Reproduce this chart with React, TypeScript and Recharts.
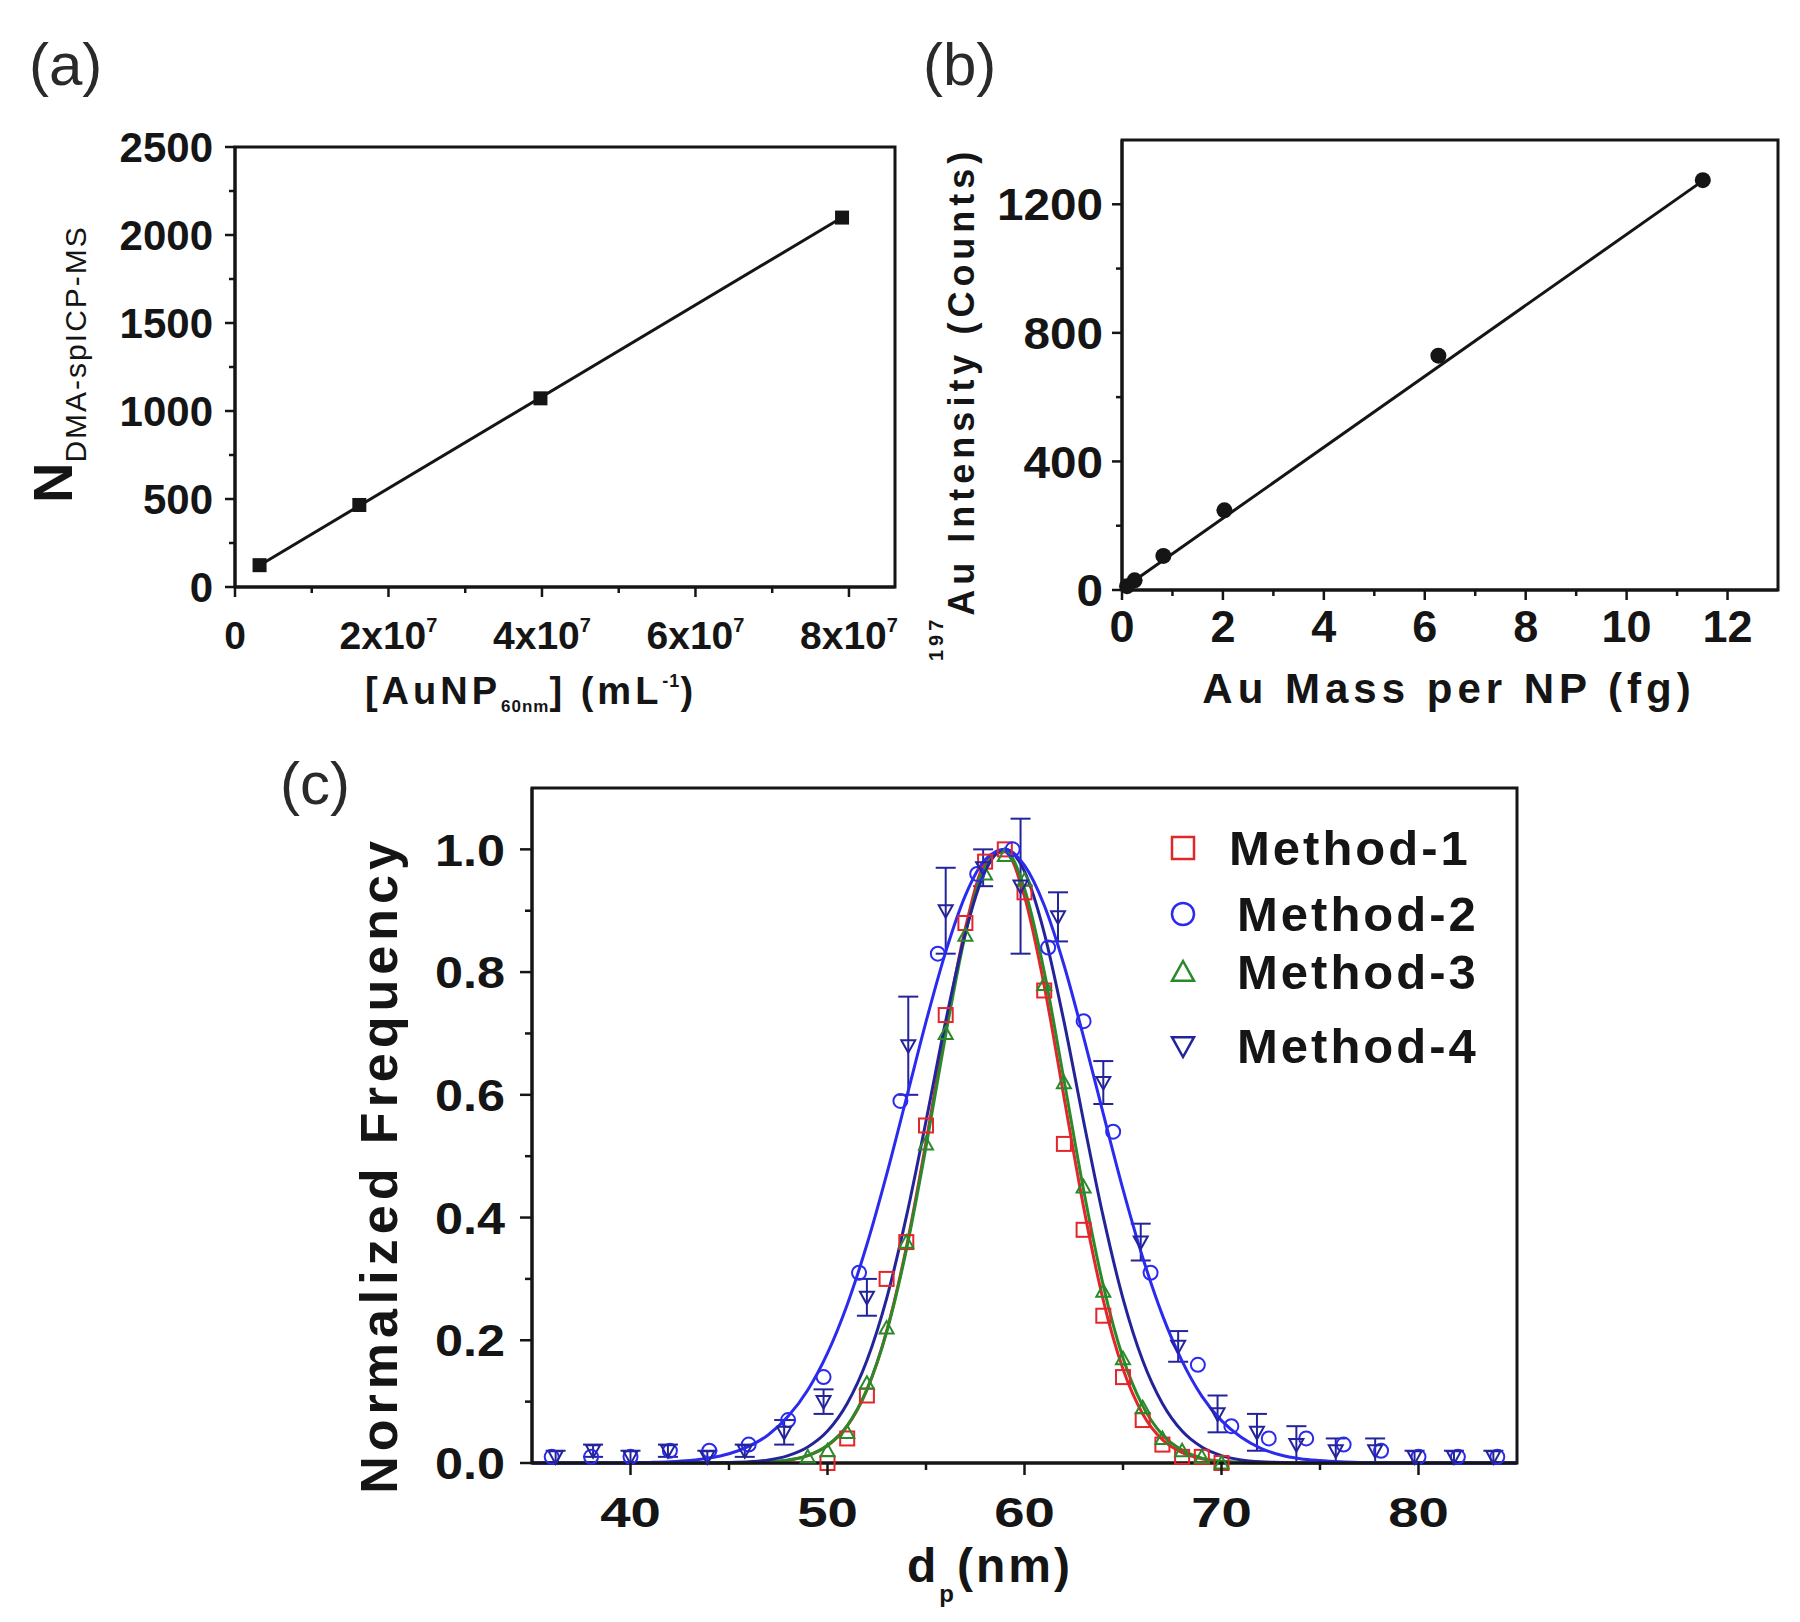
import React from 'react'
import { ComposedChart, ErrorBar, Line, ReferenceArea, Scatter, XAxis, YAxis } from 'recharts'

const FONT = '"Liberation Sans", Arial, Helvetica, sans-serif'
const INK = '#151515'

// ---- (a) DMA-spICP-MS particle count vs AuNP number concentration
const A_CONC = [0.32e7, 1.62e7, 3.98e7, 7.91e7]
const A_COUNT = [124, 466, 1072, 2099]
const A_FIT_CONC = [0.3e7, 7.92e7]
const A_FIT_COUNT = [118, 2102]
const A_XTICKS = [0, 1e7, 2e7, 3e7, 4e7, 5e7, 6e7, 7e7, 8e7]
const A_YTICKS = [0, 250, 500, 750, 1000, 1250, 1500, 1750, 2000, 2250, 2500]

// ---- (b) 197Au intensity vs Au mass per particle
const B_MASS = [0.1, 0.25, 0.82, 2.03, 6.27, 11.51]
const B_INTENSITY = [12, 30, 106, 248, 729, 1275]
const B_FIT_MASS = [0.05, 11.5]
const B_FIT_INTENSITY = [8, 1272]
const B_XTICKS = [0, 1, 2, 3, 4, 5, 6, 7, 8, 9, 10, 11, 12]
const B_YTICKS = [0, 200, 400, 600, 800, 1000, 1200]

// ---- (c) normalized size distributions
const C_XTICKS = [40, 45, 50, 55, 60, 65, 70, 75, 80]
const C_YTICKS = [0, 0.1, 0.2, 0.3, 0.4, 0.5, 0.6, 0.7, 0.8, 0.9, 1.0]

const DP_GRID = [
  35, 36, 37, 38, 39, 40, 41, 42, 43, 44, 45, 46, 47, 48, 49, 50, 51, 52, 53, 54, 55, 56, 57, 58, 59, 60,
  61, 62, 63, 64, 65, 66, 67, 68, 69, 70, 71, 72, 73, 74, 75, 76, 77, 78, 79, 80, 81, 82, 83, 84, 85,
]
const FIT_M1 = [
  0, 0, 0, 0, 0, 0, 0, 0, 0, 0, 0, 0.0005, 0.0015, 0.0044, 0.012, 0.028, 0.06, 0.119, 0.215, 0.351, 0.523,
  0.708, 0.872, 0.977, 0.996, 0.923, 0.778, 0.597, 0.417, 0.265, 0.153, 0.08, 0.038, 0.017, 0.007, 0.002,
  0.001, 0, 0, 0, 0, 0, 0, 0, 0, 0, 0, 0, 0, 0, 0,
]
const FIT_M2 = [
  0, 0, 0, 0, 0, 0.0004, 0.001, 0.002, 0.004, 0.008, 0.015, 0.027, 0.046, 0.076, 0.119, 0.179, 0.258, 0.356,
  0.47, 0.594, 0.719, 0.833, 0.925, 0.983, 1.0, 0.974, 0.909, 0.812, 0.694, 0.569, 0.446, 0.335, 0.241,
  0.166, 0.109, 0.069, 0.042, 0.024, 0.013, 0.007, 0.004, 0.002, 0.001, 0, 0, 0, 0, 0, 0, 0, 0,
]
const FIT_M3 = [
  0, 0, 0, 0, 0, 0, 0, 0, 0, 0, 0, 0, 0.002, 0.005, 0.012, 0.029, 0.061, 0.12, 0.213, 0.347, 0.515, 0.698,
  0.862, 0.971, 0.998, 0.936, 0.801, 0.625, 0.445, 0.289, 0.171, 0.093, 0.046, 0.021, 0.008, 0.003, 0.001,
  0, 0, 0, 0, 0, 0, 0, 0, 0, 0, 0, 0, 0, 0,
]
const FIT_M4 = [
  0, 0, 0, 0, 0, 0, 0, 0, 0, 0, 0.001, 0.002, 0.005, 0.012, 0.026, 0.052, 0.097, 0.167, 0.268, 0.401, 0.557,
  0.72, 0.864, 0.964, 1.0, 0.964, 0.864, 0.72, 0.557, 0.401, 0.268, 0.167, 0.097, 0.052, 0.026, 0.012, 0.005,
  0.002, 0.001, 0, 0, 0, 0, 0, 0, 0, 0, 0, 0, 0, 0,
]

const M1_DP = [50, 51, 52, 53, 54, 55, 56, 57, 58, 59, 60, 61, 62, 63, 64, 65, 66, 67, 68, 69, 70]
const M1_FREQ = [0.0, 0.04, 0.11, 0.3, 0.36, 0.55, 0.73, 0.88, 0.98, 1.0, 0.93, 0.77, 0.52, 0.38, 0.24, 0.14, 0.07, 0.03, 0.01, 0.01, 0.0]

const M2_DP = [36, 38, 40, 42, 44, 46, 48, 49.8, 51.6, 53.7, 55.6, 57.6, 59.4, 61.2, 63.0, 64.5, 66.4, 68.8, 70.5, 72.4, 74.3, 76.2, 78.1, 80, 82, 84]
const M2_FREQ = [0.01, 0.01, 0.01, 0.02, 0.02, 0.03, 0.07, 0.14, 0.31, 0.59, 0.83, 0.96, 1.0, 0.84, 0.72, 0.54, 0.31, 0.16, 0.06, 0.04, 0.04, 0.03, 0.02, 0.01, 0.01, 0.01]

const M3_DP = [49, 50, 51, 52, 53, 54, 55, 56, 57, 58, 59, 60, 61, 62, 63, 64, 65, 66, 67, 68, 69, 70]
const M3_FREQ = [0.01, 0.02, 0.05, 0.13, 0.22, 0.36, 0.52, 0.7, 0.86, 0.96, 0.99, 0.95, 0.78, 0.62, 0.45, 0.28, 0.17, 0.09, 0.04, 0.02, 0.01, 0.0]

const M4_DP = [36.2, 38.1, 40.0, 41.9, 43.9, 45.8, 47.8, 49.8, 52.0, 54.1, 56.0, 57.9, 59.8, 61.7, 64.0, 65.9, 67.8, 69.8, 71.8, 73.8, 75.8, 77.8, 79.8, 81.8, 83.8]
const M4_FREQ = [0.01, 0.02, 0.01, 0.02, 0.01, 0.02, 0.05, 0.1, 0.27, 0.68, 0.9, 0.97, 0.94, 0.89, 0.62, 0.36, 0.19, 0.08, 0.05, 0.03, 0.02, 0.02, 0.01, 0.01, 0.01]
const M4_ERR = [0.01, 0.01, 0.01, 0.01, 0.01, 0.01, 0.02, 0.02, 0.03, 0.08, 0.07, 0.03, 0.11, 0.04, 0.035, 0.03, 0.025, 0.03, 0.03, 0.03, 0.02, 0.02, 0.01, 0.01, 0.01]

const METHODS = ['Method-1', 'Method-2', 'Method-3', 'Method-4']
const COLORS = ['#e3262b', '#2b2bf0', '#2a8a2a', '#24249a']
const SHAPES = ['square', 'circle', 'triangle', 'down']

const pts = (xs: number[], ys: number[], err?: number[]) =>
  xs.map((x, i) => (err ? { x, y: ys[i], err: err[i] } : { x, y: ys[i] }))

const aPoints = pts(A_CONC, A_COUNT)
const aFit = pts(A_FIT_CONC, A_FIT_COUNT)
const bPoints = pts(B_MASS, B_INTENSITY)
const bFit = pts(B_FIT_MASS, B_FIT_INTENSITY)
const fits = [FIT_M1, FIT_M2, FIT_M3, FIT_M4].map((f) => pts(DP_GRID, f))
const m1 = pts(M1_DP, M1_FREQ)
const m2 = pts(M2_DP, M2_FREQ)
const m3 = pts(M3_DP, M3_FREQ)
const m4 = pts(M4_DP, M4_FREQ, M4_ERR)

function glyph(kind: string, cx: number, cy: number, s: number, color: string, w = 2) {
  const h = s / 2
  if (kind === 'square') return <rect x={cx - h} y={cy - h} width={s} height={s} fill="none" stroke={color} strokeWidth={w} />
  if (kind === 'circle') return <circle cx={cx} cy={cy} r={h} fill="none" stroke={color} strokeWidth={w} />
  if (kind === 'triangle')
    return <polygon points={`${cx},${cy - h} ${cx + h},${cy + h * 0.8} ${cx - h},${cy + h * 0.8}`} fill="none" stroke={color} strokeWidth={w} />
  return <polygon points={`${cx - h},${cy - h * 0.8} ${cx + h},${cy - h * 0.8} ${cx},${cy + h}`} fill="none" stroke={color} strokeWidth={w} />
}

const hollow = (kind: string, color: string) => (p: any) => glyph(kind, p.cx, p.cy, 14, color)

type TickCfg = { step: number; len: number; minor: number; size: number; gap: number; sx?: number; fmt: (v: number) => React.ReactNode }

const isMajor = (v: number, step: number) => Math.abs(v / step - Math.round(v / step)) < 1e-6

function bottomTick(c: TickCfg) {
  return (p: any) => {
    const v = p.payload.value as number
    const major = isMajor(v, c.step)
    return (
      <g>
        <line x1={p.x} x2={p.x} y1={p.y} y2={p.y + (major ? c.len : c.minor)} stroke={INK} strokeWidth={2.5} />
        {major && (
          <text transform={`translate(${p.x},${p.y + c.gap}) scale(${c.sx ?? 1},1)`} textAnchor="middle" fontFamily={FONT} fontWeight={700} fontSize={c.size} fill={INK}>
            {c.fmt(v)}
          </text>
        )}
      </g>
    )
  }
}

function leftTick(c: TickCfg) {
  return (p: any) => {
    const v = p.payload.value as number
    const major = isMajor(v, c.step)
    return (
      <g>
        <line x1={p.x - (major ? c.len : c.minor)} x2={p.x} y1={p.y} y2={p.y} stroke={INK} strokeWidth={2.5} />
        {major && (
          <text transform={`translate(${p.x - c.gap},${p.y}) scale(${c.sx ?? 1},1)`} dy="0.36em" textAnchor="end" fontFamily={FONT} fontWeight={700} fontSize={c.size} fill={INK}>
            {c.fmt(v)}
          </text>
        )}
      </g>
    )
  }
}

const aXTick = bottomTick({
  step: 2e7, len: 10, minor: 6, size: 39, gap: 62,
  fmt: (v) => (v === 0 ? '0' : <>{`${v / 1e7}x10`}<tspan fontSize={20} dy={-17}>7</tspan></>),
})
const aYTick = leftTick({ step: 500, len: 10, minor: 6, size: 42, gap: 22, fmt: (v) => String(v) })
const bXTick = bottomTick({ step: 2, len: 10, minor: 6, size: 45, gap: 52, fmt: (v) => String(v) })
const bYTick = leftTick({ step: 400, len: 10, minor: 6, size: 45, gap: 19, sx: 1.06, fmt: (v) => String(v) })
const cXTick = bottomTick({ step: 10, len: 12, minor: 7, size: 42, gap: 64, sx: 1.3, fmt: (v) => String(v) })
const cYTick = leftTick({ step: 0.2, len: 12, minor: 7, size: 45, gap: 27, sx: 1.12, fmt: (v) => v.toFixed(1) })

const axisLine = { stroke: INK, strokeWidth: 3 }
const boldText = { fontFamily: FONT, fontWeight: 700, fill: INK }

function PanelA() {
  return (
    <div style={{ position: 'absolute', left: 0, top: 0 }}>
      <ComposedChart width={920} height={760} margin={{ top: 147, right: 25, bottom: 73, left: 135 }}>
        <XAxis
          type="number" dataKey="x" domain={[0, 8.6e7]} ticks={A_XTICKS} interval={0} height={100}
          tickSize={0} tickMargin={0} tickLine={false} axisLine={axisLine} tick={aXTick}
          label={() => (
            <text x={531} y={704} textAnchor="middle" fontSize={38} letterSpacing={4} {...boldText}>
              [AuNP<tspan fontSize={17} dy={8} letterSpacing={1}>60nm</tspan><tspan dy={-8}>] (mL</tspan>
              <tspan fontSize={18} dy={-17} letterSpacing={1}>-1</tspan><tspan dy={17}>)</tspan>
            </text>
          )}
        />
        <YAxis
          type="number" dataKey="y" domain={[0, 2500]} ticks={A_YTICKS} interval={0} width={100}
          tickSize={0} tickMargin={0} tickLine={false} axisLine={axisLine} tick={aYTick}
          label={() => (
            <text transform="translate(72,503) rotate(-90)" fontFamily={FONT} fill={INK}>
              <tspan fontSize={56} fontWeight={700}>N</tspan>
              <tspan fontSize={30} dy={14} letterSpacing={2}>DMA-spICP-MS</tspan>
            </text>
          )}
        />
        <ReferenceArea x1={0} x2={8.6e7} y1={0} y2={2500} fill="none" stroke={INK} strokeWidth={3} />
        <Scatter data={aPoints} fill={INK} isAnimationActive={false}
          shape={(p: any) => <rect x={p.cx - 7} y={p.cy - 7} width={14} height={14} fill={INK} />} />
        <Line data={aFit} dataKey="y" type="linear" stroke={INK} strokeWidth={3} dot={false} isAnimationActive={false} />
      </ComposedChart>
    </div>
  )
}

function PanelB() {
  return (
    <div style={{ position: 'absolute', left: 900, top: 0 }}>
      <ComposedChart width={900} height={760} margin={{ top: 140, right: 22, bottom: 70, left: 122 }}>
        <XAxis
          type="number" dataKey="x" domain={[0, 13]} ticks={B_XTICKS} interval={0} height={100}
          tickSize={0} tickMargin={0} tickLine={false} axisLine={axisLine} tick={bXTick}
          label={() => (
            <text x={549} y={703} textAnchor="middle" fontSize={42} letterSpacing={5} {...boldText}>
              Au Mass per NP (fg)
            </text>
          )}
        />
        <YAxis
          type="number" dataKey="y" domain={[0, 1400]} ticks={B_YTICKS} interval={0} width={100}
          tickSize={0} tickMargin={0} tickLine={false} axisLine={axisLine} tick={bYTick}
          label={() => (
            <text transform="translate(74,661) rotate(-90)" {...boldText}>
              <tspan fontSize={20} dy={-31} letterSpacing={4}>197</tspan>
              <tspan fontSize={36} dy={31} letterSpacing={5}>Au Intensity (Counts)</tspan>
            </text>
          )}
        />
        <ReferenceArea x1={0} x2={13} y1={0} y2={1400} fill="none" stroke={INK} strokeWidth={3} />
        <Scatter data={bPoints} fill={INK} isAnimationActive={false}
          shape={(p: any) => <circle cx={p.cx} cy={p.cy} r={8} fill={INK} />} />
        <Line data={bFit} dataKey="y" type="linear" stroke={INK} strokeWidth={3} dot={false} isAnimationActive={false} />
      </ComposedChart>
    </div>
  )
}

function PanelC() {
  return (
    <div style={{ position: 'absolute', left: 0, top: 740 }}>
      <ComposedChart width={1800} height={882} margin={{ top: 48, right: 283, bottom: 59, left: 392 }}>
        <XAxis
          type="number" dataKey="x" domain={[35, 85]} ticks={C_XTICKS} interval={0} height={100}
          tickSize={0} tickMargin={0} tickLine={false} axisLine={axisLine} tick={cXTick}
          label={() => (
            <text x={990} y={842} textAnchor="middle" fontSize={48} letterSpacing={3} {...boldText}>
              d<tspan fontSize={24} dy={20}>p</tspan><tspan dy={-20}>(nm)</tspan>
            </text>
          )}
        />
        <YAxis
          type="number" dataKey="y" domain={[0, 1.1]} ticks={C_YTICKS} interval={0} width={140}
          tickSize={0} tickMargin={0} tickLine={false} axisLine={axisLine} tick={cYTick}
          label={() => (
            <text transform="translate(397,425) rotate(-90)" textAnchor="middle" fontSize={52} letterSpacing={5} {...boldText}>
              Normalized Frequency
            </text>
          )}
        />
        <ReferenceArea x1={35} x2={85} y1={0} y2={1.1} fill="none" stroke={INK} strokeWidth={3} />
        <Scatter data={m1} shape={hollow('square', COLORS[0])} isAnimationActive={false} />
        <Scatter data={m3} shape={hollow('triangle', COLORS[2])} isAnimationActive={false} />
        <Scatter data={m2} shape={hollow('circle', COLORS[1])} isAnimationActive={false} />
        <Scatter data={m4} shape={hollow('down', COLORS[3])} isAnimationActive={false}>
          <ErrorBar dataKey="err" direction="y" width={10} stroke={COLORS[3]} strokeWidth={2} />
        </Scatter>
        <Line data={fits[0]} dataKey="y" type="monotone" stroke={COLORS[0]} strokeWidth={3} dot={false} isAnimationActive={false} />
        <Line data={fits[2]} dataKey="y" type="monotone" stroke={COLORS[2]} strokeWidth={3} dot={false} isAnimationActive={false} />
        <Line data={fits[3]} dataKey="y" type="monotone" stroke={COLORS[3]} strokeWidth={3} dot={false} isAnimationActive={false} />
        <Line data={fits[1]} dataKey="y" type="monotone" stroke={COLORS[1]} strokeWidth={3} dot={false} isAnimationActive={false} />
      </ComposedChart>
    </div>
  )
}

const LEGEND_Y = [848, 914, 972, 1046]
const LEGEND_TEXT_X = [1229, 1237, 1237, 1237]

function Overlay() {
  return (
    <svg width={1800} height={1622} style={{ position: 'absolute', left: 0, top: 0, pointerEvents: 'none' }}>
      <g fontFamily={FONT} fontSize={60} fill="#2a2a2a">
        <text x={29} y={85}>(a)</text>
        <text x={923} y={85}>(b)</text>
        <text x={280} y={804}>(c)</text>
      </g>
      {METHODS.map((m, i) => (
        <g key={m}>
          {glyph(SHAPES[i], 1183, LEGEND_Y[i], 22, COLORS[i], 2.5)}
          <text x={LEGEND_TEXT_X[i]} y={LEGEND_Y[i] + 17} fontSize={49} letterSpacing={3} {...boldText}>
            {m}
          </text>
        </g>
      ))}
    </svg>
  )
}

export default function App() {
  return (
    <div style={{ position: 'absolute', left: 0, top: 0, width: 1800, height: 1622, background: '#fff' }}>
      <PanelA />
      <PanelB />
      <PanelC />
      <Overlay />
    </div>
  )
}
